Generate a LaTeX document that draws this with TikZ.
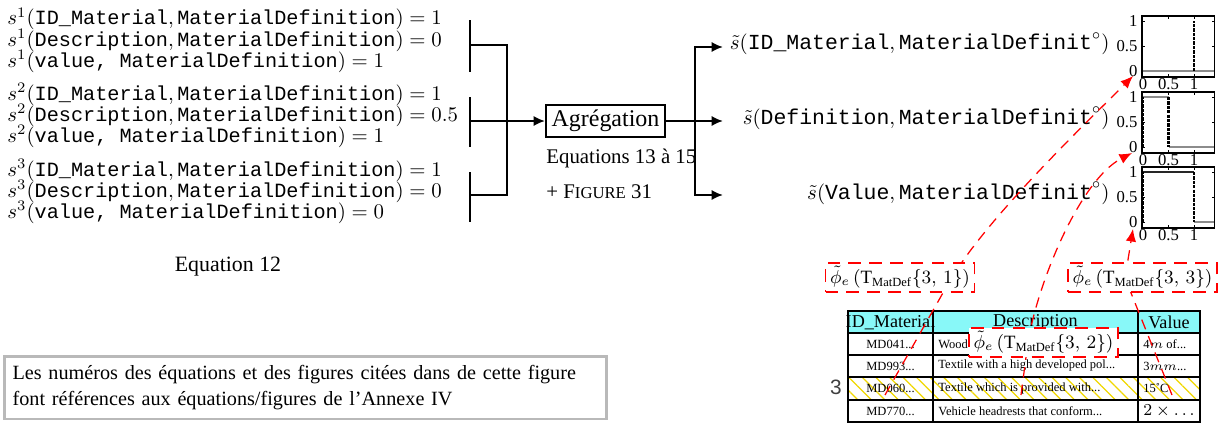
\documentclass[tikz,border=0pt]{standalone}
\usepackage{amsmath}
\usepackage[no-math]{fontspec}
\setmainfont{Liberation Serif}
\setmonofont{Liberation Mono}
\setsansfont{Liberation Sans}
\usetikzlibrary{arrows.meta,patterns.meta}
\definecolor{hdrcyan}{RGB}{136,248,248}
\definecolor{hatchyel}{RGB}{240,215,0}
\definecolor{notegray}{RGB}{185,185,185}
\definecolor{curvegray}{RGB}{140,140,140}
\tikzset{
  blk/.style={line width=1.2pt},
  blkarrow/.style={line width=1.2pt,-{Latex[length=5.5pt,width=5pt]}},
  eqtxt/.style={anchor=base west,inner sep=0pt,font=\fontsize{9.7}{12}\selectfont},
  stxt/.style={anchor=base east,inner sep=0pt,font=\fontsize{10.3}{12}\selectfont},
  redline/.style={red,line width=0.6pt,dash pattern=on 5pt off 3.5pt},
  redarrow/.style={redline,-{Latex[length=6pt,width=5pt]}},
  philabel/.style={draw=red,line width=0.6pt,dash pattern=on 6pt off 4pt,fill=white,
     minimum width=71.5pt,minimum height=14pt,inner sep=0pt,font=\fontsize{9}{10}\selectfont},
  ticklbl/.style={inner sep=0pt,font=\fontsize{8}{8}\selectfont},
  frameline/.style={line width=0.7pt},
  tickline/.style={line width=0.4pt},
  gline/.style={curvegray,line width=0.6pt},
  bline/.style={black!85,line width=0.6pt},
  dline/.style={black,line width=1pt,dash pattern=on 1.6pt off 0.5pt},
  gridline/.style={line width=0.8pt},
  cell/.style={inner sep=0pt,font=\fontsize{6}{7}\selectfont},
  hdr/.style={inner sep=0pt,font=\fontsize{8.7}{9}\selectfont},
}
\newcommand{\chartframe}{%
  \draw[frameline] (-0.02,-0.12) rectangle (1.4,1.1);
  \foreach \t in {0.5,1}{\draw[tickline] (\t,-0.12) -- ++(0,0.06); \draw[tickline] (\t,1.1) -- ++(0,-0.06);}
  \foreach \t in {0,0.5,1}{\draw[tickline] (-0.02,\t) -- ++(0.05,0); \draw[tickline] (1.4,\t) -- ++(-0.05,0);}
  \foreach \t/\l in {0/0,0.5/0.5,1/1}{\node[ticklbl,anchor=east] at (-0.1,\t) {\l}; \node[ticklbl,anchor=north] at (\t,-0.14) {\l};}
}
\begin{document}
\begin{tikzpicture}[x=0.48pt,y=-0.48pt,font=\fontsize{10}{12}\selectfont]
\useasboundingbox (0,0) rectangle (1229,423);

% ---------- left equations
\node[eqtxt] (s1a) at (7,25) {$s^1(\texttt{ID\_Material},\texttt{MaterialDefinition}) = 1$};
\node[eqtxt] (s1b) at (7,46) {$s^1(\texttt{Description},\texttt{MaterialDefinition}) = 0$};
\node[eqtxt] (s1c) at (7,67) {$s^1(\texttt{value,\ MaterialDefinition}) = 1$};
\node[eqtxt] (s2a) at (7,100) {$s^2(\texttt{ID\_Material},\texttt{MaterialDefinition}) = 1$};
\node[eqtxt] (s2b) at (7,121) {$s^2(\texttt{Description},\texttt{MaterialDefinition}) = 0.5$};
\node[eqtxt] (s2c) at (7,142) {$s^2(\texttt{value,\ MaterialDefinition}) = 1$};
\node[eqtxt] (s3a) at (7,176) {$s^3(\texttt{ID\_Material},\texttt{MaterialDefinition}) = 1$};
\node[eqtxt] (s3b) at (7,197) {$s^3(\texttt{Description},\texttt{MaterialDefinition}) = 0$};
\node[eqtxt] (s3c) at (7,218) {$s^3(\texttt{value,\ MaterialDefinition}) = 0$};
\node[anchor=base,inner sep=0pt,font=\fontsize{10.5}{12}\selectfont] (eq12) at (228,271) {Equation 12};

% ---------- brackets
\coordinate (g1t) at (470,20); \coordinate (g1b) at (470,72); \coordinate (g1m) at (470,45);
\coordinate (g2t) at (470,97); \coordinate (g2b) at (470,147); \coordinate (g2m) at (470,121);
\coordinate (g3t) at (470,172); \coordinate (g3b) at (470,222); \coordinate (g3m) at (470,195);
\coordinate (jt) at (507,45); \coordinate (jb) at (507,195);
\draw[blk] (g1t) -- (g1b);
\draw[blk] (g2t) -- (g2b);
\draw[blk] (g3t) -- (g3b);
\draw[blk] (g1m) -- (jt) -- (jb) -- (g3m);

% ---------- aggregation
\node[draw,line width=1.1pt,minimum width=57pt,minimum height=15.4pt,inner sep=0pt,
      font=\fontsize{11.5}{12}\selectfont] (agg) at (605.5,121) {Agrégation};
\draw[blkarrow] (g2m) -- (agg.west);
\node[anchor=base west,inner sep=0pt] (eq1315) at (546,163) {Equations 13 à 15};
\node[anchor=base west,inner sep=0pt] (fig31) at (546,198) {+ F{\fontsize{8}{8}\selectfont IGURE} 31};

\coordinate (fk) at (695,121);
\coordinate (a1) at (723,47); \coordinate (a2) at (723,121); \coordinate (a3) at (723,195);
\draw[blkarrow] (agg.east) -- (a2);
\draw[blkarrow] (fk) |- (a1);
\draw[blkarrow] (fk) |- (a3);

\node[stxt] (st1) at (1110,50) {$\tilde{s}(\texttt{ID\_Material},\texttt{MaterialDefinit}^\circ)$};
\node[stxt] (st2) at (1110,124) {$\tilde{s}(\texttt{Definition},\texttt{MaterialDefinit}^\circ)$};
\node[stxt] (st3) at (1110,199) {$\tilde{s}(\texttt{Value},\texttt{MaterialDefinit}^\circ)$};

% ---------- charts
\begin{scope}[shift={(1143,71)},x=24.48pt,y=24pt]
  \chartframe
  \draw[gline] (0,0) -- (1.4,0);
  \draw[dline] (1,0) -- (1,1);
\end{scope}
\begin{scope}[shift={(1143,147)},x=24.48pt,y=24pt]
  \chartframe
  \draw[gline] (0,1) -- (0.5,1);
  \draw[gline] (0.5,0) -- (1.4,0);
  \draw[dline] (0,0) -- (0,1);
  \draw[dline] (0.5,1) -- (0.5,0);
\end{scope}
\begin{scope}[shift={(1143,222)},x=24.48pt,y=24pt]
  \chartframe
  \draw[bline] (0,1) -- (1,1);
  \draw[gline] (1,0) -- (1.4,0);
  \draw[dline] (0,0) -- (0,1);
  \draw[dline] (1,1) -- (1,0);
\end{scope}
\coordinate (o1) at (1133,76);
\coordinate (o2) at (1132,153);
\coordinate (o3) at (1133,229);

% ---------- table
\fill[hdrcyan] (848,311) rectangle (1200,333);
\fill[pattern={Lines[angle=-45,distance=4.6pt,line width=0.6pt]},pattern color=hatchyel] (848,377) rectangle (1200,400);
\draw[gridline] (848,311) rectangle (1200,422);
\foreach \yy in {333,355,377,400}{\draw[gridline] (848,\yy) -- (1200,\yy);}
\draw[gridline] (933,311) -- (933,422);
\draw[gridline] (1138,311) -- (1138,422);

\node[hdr] (h1) at (890.5,322) {ID\_Material};
\node[hdr] (h2) at (1035.5,322) {Description};
\node[hdr] (h3) at (1169,322) {Value};

\node[cell] (c11) at (890.5,344) {MD041...};
\node[cell,anchor=west] (c12) at (938,344) {Wood};
\node[cell,anchor=west] (c13) at (1143,344) {4$m$ of...};
\node[cell] (c21) at (890.5,366) {MD993...};
\node[cell,anchor=west] (c22) at (938,366) {Textile with a high developed pol...};
\node[cell,anchor=west] (c23) at (1143,366) {3$mm$...};
\node[cell] (c31) at (890.5,388.5) {MD060...};
\node[cell,anchor=west] (c32) at (938,388.5) {Textile which is provided with...};
\node[cell,anchor=west] (c33) at (1143,388.5) {15˚C};
\node[cell] (c41) at (890.5,411) {MD770...};
\node[cell,anchor=west] (c42) at (938,411) {Vehicle headrests that conform...};
\node[inner sep=0pt,anchor=west,font=\fontsize{8.5}{9}\selectfont] (c43) at (1143,411) {$2\times\ldots$};
\node[inner sep=0pt,font=\sffamily\fontsize{10}{10}\selectfont,text=black!75] (r3) at (836,387) {3};

% ---------- red dashed links
\coordinate (ca) at (885,395);
\coordinate (cb) at (1021,395);
\coordinate (cc) at (1172,395);
\coordinate (l31) at (948,284);
\coordinate (l32) at (1028,342);
\coordinate (l33) at (1125,278);
\draw[redline] (ca) -- (l31);
\draw[redarrow] (l31) .. controls (984,221) and (1080,129) .. (o1);
\draw[redline] (cb) -- (l32);
\draw[redarrow] (l32) .. controls (1038,282) and (1080,180) .. (o2);
\draw[redline] (cc) -- (l33);
\draw[redarrow] (l33) -- (o3);

\node[philabel] (p31) at (900,277.5) {$\tilde{\phi}_e\,(\text{T}_{\text{MatDef}}\{3,\,1\})$};
\node[philabel] (p33) at (1142.5,277.5) {$\tilde{\phi}_e\,(\text{T}_{\text{MatDef}}\{3,\,3\})$};
\node[philabel] (p32) at (1043.5,342.5) {$\tilde{\phi}_e\,(\text{T}_{\text{MatDef}}\{3,\,2\})$};

% ---------- note
\node[draw=notegray,line width=1.2pt,anchor=north west,inner xsep=4pt,inner ysep=0pt,
      minimum height=30.2pt,text width=281pt,align=left,font=\fontsize{9.7}{12.5}\selectfont] (note) at (3,355)
      {Les numéros des équations et des figures citées dans de cette figure\\font références aux équations/figures de l’Annexe IV};
\end{tikzpicture}
\end{document}
